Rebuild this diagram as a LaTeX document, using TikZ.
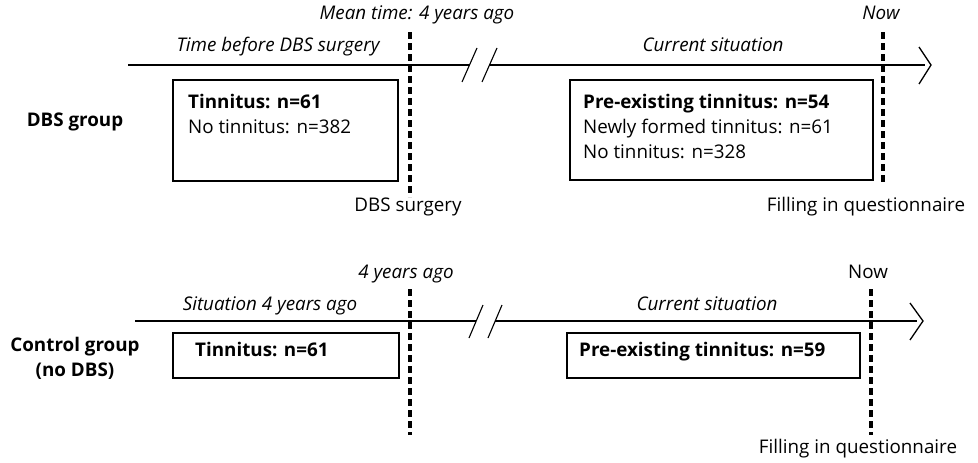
\documentclass[tikz,border=0pt]{standalone}
\usepackage{fontspec}
\setmainfont{Open Sans}
\begin{document}
\begin{tikzpicture}[x=1pt,y=-1pt,
  every node/.style={font=\fontsize{18.8}{22}\selectfont, inner sep=0pt},
  lbl/.style={anchor=mid},
  itl/.style={anchor=mid, font=\fontsize{18.8}{22}\selectfont\itshape},
  bld/.style={font=\fontsize{18.8}{22}\selectfont\bfseries},
  tline/.style={line width=1.3pt},
  brk/.style={line width=1.1pt},
  chev/.style={line width=1.3pt},
  marker/.style={line width=3.2pt, dash pattern=on 7pt off 4pt},
  boxn/.style={draw, line width=1.5pt, anchor=north west, inner sep=0pt}
]
\useasboundingbox (0,0) rectangle (978,463);

% ---------------- top timeline (DBS group)
\coordinate (t0) at (128,65);
\coordinate (t1) at (469.5,65);
\coordinate (t2) at (489.5,65);
\coordinate (t3) at (925,65);
\coordinate (ttip) at (931,65);
\coordinate (tca) at (919,47);
\coordinate (tcb) at (919,84);
\coordinate (ts1a) at (462,82); \coordinate (ts1b) at (477,48);
\coordinate (ts2a) at (482,82); \coordinate (ts2b) at (497,48);
\draw[tline] (t0) -- (t1);
\draw[tline] (t2) -- (t3);
\draw[brk] (ts1a) -- (ts1b);
\draw[brk] (ts2a) -- (ts2b);
\draw[chev] (tca) -- (ttip) -- (tcb);

\coordinate (d1a) at (410,32); \coordinate (d1b) at (410,197);
\coordinate (d2a) at (883,32); \coordinate (d2b) at (883,185);
\draw[marker] (d1a) -- (d1b);
\draw[marker] (d2a) -- (d2b);

\node[itl] (meantime) at (417,16.5) {Mean time: 4 years ago};
\node[itl] (before) at (278,49) {Time before DBS surgery};
\node[itl] (cur1) at (713,49) {Current situation};
\node[itl] (now1) at (881,16.5) {Now};
\node[lbl] (dbssurg) at (408,209) {DBS surgery};
\node[lbl] (fill1) at (866,209) {Filling in questionnaire};
\node[lbl,bld] (dbsgroup) at (75,124) {DBS group};

\node[boxn, minimum width=225pt, minimum height=101pt] (box1) at (172,79) {};
\node[bld, anchor=mid west] (b1l1) at (188,105.5) {Tinnitus: n=61};
\node[anchor=mid west] (b1l2) at (188,130.5) {No tinnitus: n=382};

\node[boxn, minimum width=303pt, minimum height=100pt] (box2) at (569,79) {};
\node[bld, anchor=mid west] (b2l1) at (583,106) {Pre-existing tinnitus: n=54};
\node[anchor=mid west] (b2l2) at (583,131) {Newly formed tinnitus: n=61};
\node[anchor=mid west] (b2l3) at (583,156) {No tinnitus: n=328};

% ---------------- bottom timeline (control group)
\coordinate (u0) at (135,321);
\coordinate (u1) at (476,321);
\coordinate (u2) at (495,321);
\coordinate (u3) at (917,321);
\coordinate (utip) at (923,321);
\coordinate (uca) at (910,303);
\coordinate (ucb) at (910,340);
\coordinate (us1a) at (469,338); \coordinate (us1b) at (483,305);
\coordinate (us2a) at (488,338); \coordinate (us2b) at (502,305);
\draw[tline] (u0) -- (u1);
\draw[tline] (u2) -- (u3);
\draw[brk] (us1a) -- (us1b);
\draw[brk] (us2a) -- (us2b);
\draw[chev] (uca) -- (utip) -- (ucb);

\coordinate (d3a) at (410,289); \coordinate (d3b) at (410,435);
\coordinate (d4a) at (871,289); \coordinate (d4b) at (871,435);
\draw[marker] (d3a) -- (d3b);
\draw[marker] (d4a) -- (d4b);

\node[itl] (fouryears) at (406,276) {4 years ago};
\node[itl] (sit) at (270,308) {Situation 4 years ago};
\node[itl] (cur2) at (707,308) {Current situation};
\node[lbl] (now2) at (868,276) {Now};
\node[lbl] (fill2) at (858,451) {Filling in questionnaire};
\node[lbl,bld] (ctrl1) at (75,349) {Control group};
\node[lbl,bld] (ctrl2) at (75,374) {(no DBS)};

\node[boxn, minimum width=226pt, minimum height=45pt] (box3) at (172,332) {};
\node[bld, anchor=mid west] (b3l1) at (195,354) {Tinnitus: n=61};

\node[boxn, minimum width=293pt, minimum height=45pt] (box4) at (566,332) {};
\node[bld, anchor=mid west] (b4l1) at (579,354) {Pre-existing tinnitus: n=59};
\end{tikzpicture}
\end{document}
